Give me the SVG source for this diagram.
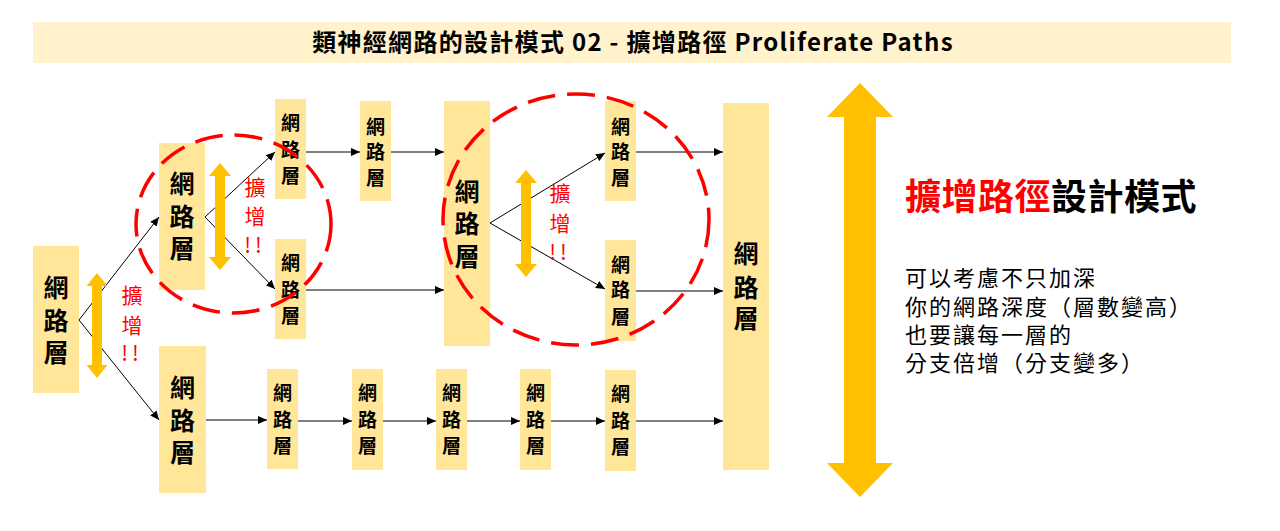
<svg xmlns="http://www.w3.org/2000/svg" width="1280" height="531" viewBox="0 0 1280 531">
<style>
.node{fill:#FFE699}
.big{font-family:"Noto Sans CJK TC","Noto Sans CJK SC",sans-serif;font-size:25px;font-weight:bold;fill:#000;text-anchor:middle}
.sm{font-family:"Noto Sans CJK TC","Noto Sans CJK SC",sans-serif;font-size:19px;font-weight:bold;fill:#000;text-anchor:middle}
.red{font-family:"Noto Sans CJK TC","Noto Sans CJK SC",sans-serif;font-size:21px;fill:#FF0000;text-anchor:middle}
.conn{stroke:#000;stroke-width:1;fill:none;marker-end:url(#ah)}
.oarr{fill:#FFC000}
.dash{fill:none;stroke:#FF0000;stroke-width:3.5;stroke-dasharray:28 12}
.body{font-family:"Noto Sans CJK TC","Noto Sans CJK SC",sans-serif;font-size:22px;letter-spacing:2px;fill:#000}
</style>
<defs>
<marker id="ah" markerUnits="userSpaceOnUse" markerWidth="10" markerHeight="8" refX="9" refY="4" orient="auto">
<path d="M0,0 L9,4 L0,8 Z" fill="#000"/>
</marker>
</defs>
<rect width="1280" height="531" fill="#fff"/>
<g id="title">
<rect x="33" y="22" width="1198" height="41" fill="#FFF2CC"/>
<text x="633" y="51" font-family="'Noto Sans CJK TC','Noto Sans CJK SC',sans-serif" font-size="24" font-weight="bold" letter-spacing="1.3" text-anchor="middle" fill="#000">類神經網路的設計模式 02 - 擴增路徑 Proliferate Paths</text>
</g>
<g id="n1"><rect class="node" x="33" y="246" width="46" height="147"/>
<text class="big" x="56" y="296.5">網</text><text class="big" x="56" y="329.5">路</text><text class="big" x="56" y="361.5">層</text></g>
<g id="n2"><rect class="node" x="159" y="143" width="46" height="147"/>
<text class="big" x="182" y="192.5">網</text><text class="big" x="182" y="225.5">路</text><text class="big" x="182" y="257.5">層</text></g>
<g id="n3"><rect class="node" x="159" y="346" width="47" height="147"/>
<text class="big" x="182.5" y="396.5">網</text><text class="big" x="182.5" y="429.5">路</text><text class="big" x="182.5" y="461.5">層</text></g>
<g id="n4"><rect class="node" x="275" y="99" width="31" height="100"/>
<text class="sm" x="290.5" y="130">網</text><text class="sm" x="290.5" y="157">路</text><text class="sm" x="290.5" y="183">層</text></g>
<g id="n5"><rect class="node" x="275" y="239" width="31" height="100"/>
<text class="sm" x="290.5" y="270">網</text><text class="sm" x="290.5" y="297">路</text><text class="sm" x="290.5" y="323">層</text></g>
<g id="n6"><rect class="node" x="360" y="101" width="31" height="100"/>
<text class="sm" x="375.5" y="134">網</text><text class="sm" x="375.5" y="159">路</text><text class="sm" x="375.5" y="185">層</text></g>
<g id="n7"><rect class="node" x="444" y="101" width="46" height="245"/>
<text class="big" x="467" y="200.5">網</text><text class="big" x="467" y="232.5">路</text><text class="big" x="467" y="265.5">層</text></g>
<g id="n8"><rect class="node" x="605" y="101" width="31" height="100"/>
<text class="sm" x="620.5" y="134">網</text><text class="sm" x="620.5" y="159">路</text><text class="sm" x="620.5" y="185">層</text></g>
<g id="n9"><rect class="node" x="605" y="240" width="31" height="101"/>
<text class="sm" x="620.5" y="272">網</text><text class="sm" x="620.5" y="297">路</text><text class="sm" x="620.5" y="324">層</text></g>
<g id="n10"><rect class="node" x="267" y="369" width="31" height="100"/>
<text class="sm" x="282.5" y="400">網</text><text class="sm" x="282.5" y="427">路</text><text class="sm" x="282.5" y="453">層</text></g>
<g id="n11"><rect class="node" x="352" y="369" width="31" height="101"/>
<text class="sm" x="367.5" y="400">網</text><text class="sm" x="367.5" y="427">路</text><text class="sm" x="367.5" y="453">層</text></g>
<g id="n12"><rect class="node" x="436" y="369" width="31" height="101"/>
<text class="sm" x="451.5" y="400">網</text><text class="sm" x="451.5" y="427">路</text><text class="sm" x="451.5" y="453">層</text></g>
<g id="n13"><rect class="node" x="520" y="369" width="31" height="101"/>
<text class="sm" x="535.5" y="400">網</text><text class="sm" x="535.5" y="427">路</text><text class="sm" x="535.5" y="453">層</text></g>
<g id="n14"><rect class="node" x="605" y="370" width="31" height="101"/>
<text class="sm" x="620.5" y="401">網</text><text class="sm" x="620.5" y="428">路</text><text class="sm" x="620.5" y="454">層</text></g>
<g id="n15"><rect class="node" x="723" y="103" width="46" height="367"/>
<text class="big" x="746" y="262.5">網</text><text class="big" x="746" y="296.5">路</text><text class="big" x="746" y="327.5">層</text></g>
<g id="connectors">
<line class="conn" x1="79" y1="320" x2="159" y2="217"/>
<line class="conn" x1="79" y1="320" x2="159" y2="420"/>
<line class="conn" x1="205" y1="217" x2="275" y2="152"/>
<line class="conn" x1="205" y1="217" x2="275" y2="289"/>
<line class="conn" x1="306" y1="152" x2="360" y2="152"/>
<line class="conn" x1="391" y1="152" x2="444" y2="152"/>
<line class="conn" x1="306" y1="290" x2="444" y2="290"/>
<line class="conn" x1="490" y1="223" x2="605" y2="153"/>
<line class="conn" x1="490" y1="223" x2="605" y2="289"/>
<line class="conn" x1="636" y1="152" x2="723" y2="152"/>
<line class="conn" x1="636" y1="291" x2="723" y2="291"/>
<line class="conn" x1="206" y1="420" x2="267" y2="420"/>
<line class="conn" x1="298" y1="421" x2="352" y2="421"/>
<line class="conn" x1="383" y1="421" x2="436" y2="421"/>
<line class="conn" x1="467" y1="421" x2="520" y2="421"/>
<line class="conn" x1="551" y1="421" x2="605" y2="421"/>
<line class="conn" x1="636" y1="421" x2="723" y2="421"/>
</g>
<g id="expand-arrows">
<polygon class="oarr" points="97,273 107.5,286 102,286 102,365 107.5,365 97,378 86.5,365 92,365 92,286 86.5,286"/>
<polygon class="oarr" points="220,163 231,176 225,176 225,257 231,257 220,270 209,257 215,257 215,176 209,176"/>
<polygon class="oarr" points="526,170 537,183 531,183 531,264 537,264 526,277 515,264 521,264 521,183 515,183"/>
<polygon class="oarr" points="860,83 893,117 876,117 876,463 893,463 860,497 827,463 844,463 844,117 827,117"/>
</g>
<g id="circles">
<ellipse class="dash" cx="233.5" cy="224" rx="97.5" ry="89"/>
<ellipse class="dash" cx="576" cy="219.5" rx="133" ry="125.5"/>
</g>
<g id="labels">
<text class="red" x="132" y="303">擴</text><text class="red" x="132" y="333">增</text><text class="red" x="132" y="361" letter-spacing="4">!!</text>
<text class="red" x="255" y="195">擴</text><text class="red" x="255" y="224">增</text><text class="red" x="255" y="253" letter-spacing="4">!!</text>
<text class="red" x="560" y="201">擴</text><text class="red" x="560" y="231">增</text><text class="red" x="560" y="260" letter-spacing="4">!!</text>
</g>
<g id="description">
<text x="905" y="210" font-family="'Noto Sans CJK TC','Noto Sans CJK SC',sans-serif" font-size="36" font-weight="bold" letter-spacing="0.5"><tspan fill="#FF0000">擴增路徑</tspan><tspan fill="#000">設計模式</tspan></text>
<text class="body" x="905" y="286">可以考慮不只加深</text>
<text class="body" x="905" y="315">你的網路深度（層數變高）</text>
<text class="body" x="905" y="343">也要讓每一層的</text>
<text class="body" x="905" y="371">分支倍增（分支變多）</text>
</g>
</svg>
